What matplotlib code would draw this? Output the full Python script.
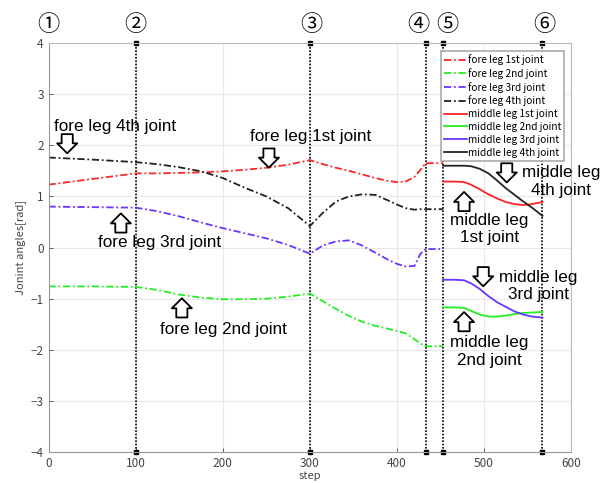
import matplotlib
matplotlib.use("Agg")
import matplotlib.pyplot as plt
from matplotlib.transforms import offset_copy

plt.rcParams['font.family'] = ['Noto Sans CJK JP', 'DejaVu Sans']

# fore leg data (dash-dot), steps 0..453
fore_step = [0, 50, 100, 125, 150, 175, 200, 225, 250, 275, 300, 315, 330, 345,
             360, 375, 390, 400, 410, 420, 427, 433, 453]
fore_1st = [1.23, 1.34, 1.45, 1.45, 1.46, 1.47, 1.49, 1.52, 1.56, 1.62, 1.71, 1.63,
            1.56, 1.50, 1.43, 1.36, 1.30, 1.28, 1.29, 1.38, 1.52, 1.65, 1.65]
fore_2nd = [-0.76, -0.76, -0.77, -0.83, -0.92, -0.98, -1.01, -1.01, -1.00, -0.96,
            -0.90, -1.05, -1.20, -1.34, -1.45, -1.53, -1.59, -1.63, -1.68, -1.79,
            -1.88, -1.93, -1.93]
fore_3rd = [0.80, 0.79, 0.78, 0.71, 0.61, 0.49, 0.38, 0.28, 0.18, 0.05, -0.12, 0.04,
            0.12, 0.14, 0.04, -0.10, -0.24, -0.32, -0.37, -0.36, -0.12, -0.03, -0.03]
fore_4th = [1.76, 1.72, 1.67, 1.63, 1.57, 1.49, 1.36, 1.17, 1.00, 0.77, 0.42, 0.68,
            0.90, 1.00, 1.04, 1.03, 0.92, 0.84, 0.77, 0.74, 0.75, 0.75, 0.75]

# middle leg data (solid), steps 453..567
mid_step = [453, 465, 477, 485, 495, 505, 515, 525, 535, 545, 555, 567]
mid_1st = [1.29, 1.29, 1.28, 1.23, 1.14, 1.04, 0.96, 0.89, 0.85, 0.83, 0.85, 0.89]
mid_2nd = [-1.17, -1.17, -1.18, -1.24, -1.31, -1.35, -1.35, -1.33, -1.30, -1.28,
           -1.27, -1.26]
mid_3rd = [-0.63, -0.63, -0.64, -0.70, -0.81, -0.95, -1.07, -1.16, -1.25, -1.31,
           -1.35, -1.37]
mid_4th = [1.60, 1.60, 1.60, 1.59, 1.54, 1.45, 1.31, 1.16, 1.03, 0.90, 0.78, 0.62]

phase_steps = [100, 300, 433, 453, 567]
phase_marks = ['①', '②', '③', '④', '⑤', '⑥']
phase_mark_x = [0, 100, 302, 425, 458, 569]

colors = ['#ff2424', '#22ee22', '#6a35ff', '#222222']
names = ['1st', '2nd', '3rd', '4th']

fig = plt.figure(figsize=(6.07, 4.83), dpi=100)
ax = fig.add_axes([0.080, 0.064, 0.861, 0.847])

for c, n, v in zip(colors, names, [fore_1st, fore_2nd, fore_3rd, fore_4th]):
    ax.plot(fore_step, v, color=c, lw=1.3, ls=(0, (4, 1.5, 1, 1.5)),
            label='fore leg %s joint' % n)
for c, n, v in zip(colors, names, [mid_1st, mid_2nd, mid_3rd, mid_4th]):
    ax.plot(mid_step, v, color=c, lw=1.3, label='middle leg %s joint' % n)

for s in phase_steps:
    ax.plot([s, s], [-4, 4], color='k', ls=(0, (1, 1)), lw=1.2, marker='s',
            ms=2.5, clip_on=False, zorder=1)

for m, x in zip(phase_marks, phase_mark_x):
    ax.text(x, 4.36, m, ha='center', va='center', fontsize=16, clip_on=False)

ax.set_xlim(0, 600)
ax.set_ylim(-4, 4)
ax.set_xticks(range(0, 601, 100))
ax.set_yticks(range(-4, 5))
ax.set_yticklabels(['−4', '−3', '−2', '−1', '0', '1', '2', '3', '4'])
ax.grid(True, color='#e8e8e8', lw=0.8)
ax.set_axisbelow(True)
ax.tick_params(direction='in', length=3, labelsize=8.5, colors='#444444',
               width=0.6)
for sp in ax.spines.values():
    sp.set_color('#bbbbbb')
ax.spines['left'].set_color('#999999')
ax.spines['bottom'].set_color('#999999')
ax.set_xlabel('step', fontsize=8, color='#444444', labelpad=1)
ax.set_ylabel('Jonint angles[rad]', fontsize=8, color='#444444', labelpad=3)

leg = ax.legend(loc='upper right', bbox_to_anchor=(0.987, 0.98), borderaxespad=0,
                fontsize=7.3, handlelength=2.3, handletextpad=0.1,
                labelspacing=0.28, borderpad=0.3, fancybox=False, framealpha=1)
leg.get_frame().set_edgecolor('#aaaaaa')
leg.get_frame().set_linewidth(1.2)

# annotations with hollow block arrows
afont = dict(family=['Liberation Sans', 'DejaVu Sans'], fontsize=12.3, color='k')
labels = [
    ('fore leg 4th joint', 6.6, 2.37, 'left', 'down', 21.4, 2.03),
    ('fore leg 1st joint', 231, 2.17, 'left', 'down', 253, 1.75),
    ('fore leg 3rd joint', 57, 0.09, 'left', 'up', 83, 0.48),
    ('fore leg 2nd joint', 128, -1.61, 'left', 'up', 153, -1.18),
    ('middle leg\n4th joint', 588, 1.29, 'center', 'down', 526, 1.46),
    ('middle leg\n1st joint', 506, 0.36, 'center', 'up', 477, 0.90),
    ('middle leg\n3rd joint', 562, -0.75, 'center', 'down', 499, -0.57),
    ('middle leg\n2nd joint', 506, -2.03, 'center', 'up', 477, -1.45),
]
astyle = 'simple,head_width=0.72,head_length=0.36,tail_width=0.4'
half = 6.9  # half arrow length, points
for txt, tx, ty, ha, d, axx, ay in labels:
    ax.text(tx, ty, txt, ha=ha, va='center', linespacing=1.2, clip_on=False,
            **afont)
    sgn = -1 if d == 'down' else 1
    head_tr = offset_copy(ax.transData, fig=fig, y=sgn * half, units='points')
    tail_tr = offset_copy(ax.transData, fig=fig, y=-sgn * half, units='points')
    ax.annotate('', xy=(axx, ay), xycoords=head_tr,
                xytext=(axx, ay), textcoords=tail_tr,
                arrowprops=dict(arrowstyle=astyle, fc='white', ec='black',
                                lw=1.3, shrinkA=0, shrinkB=0,
                                mutation_scale=20))

fig.savefig('out.png', dpi=100)
